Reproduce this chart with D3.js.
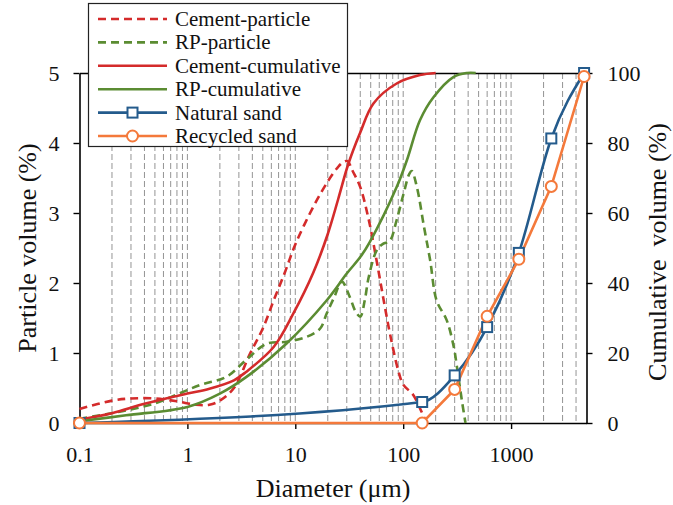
<!DOCTYPE html>
<html>
<head>
<meta charset="utf-8">
<script src="https://cdn.jsdelivr.net/npm/d3@7"></script>
<style>
  html, body { margin: 0; padding: 0; background: #fff; }
  svg { display: block; font-family: "Liberation Serif", "Times New Roman", serif; }
</style>
</head>
<body>
<svg id="chart" width="673" height="505"></svg>
<script>
// Particle size distributions (diameter in µm)
const cementParticleD = [0.1, 0.2, 0.3, 0.5, 0.8, 1.2, 1.6, 2.0, 2.7, 3.8, 5, 6.3, 8, 10, 14.7, 20, 25, 28, 30.5, 34, 40, 48, 57, 66, 76, 90, 100, 124, 148, 165];
const cementParticleV = [0.2, 0.32, 0.35, 0.35, 0.31, 0.26, 0.26, 0.32, 0.5, 0.99, 1.35, 1.75, 2.15, 2.55, 3.09, 3.45, 3.66, 3.73, 3.74, 3.6, 3.37, 2.9, 2.3, 1.75, 1.25, 0.75, 0.55, 0.4, 0.16, 0];

const rpParticleD = [0.1, 0.27, 0.5, 0.7, 1.3, 2.3, 3.5, 5.4, 8.3, 12.7, 17, 19.5, 23, 27, 32, 36, 40, 44, 48, 57, 65, 75, 87, 101, 114, 120, 134, 156, 178, 204, 253, 294, 315, 350, 378];
const rpParticleV = [0.06, 0.18, 0.28, 0.37, 0.54, 0.66, 0.9, 1.13, 1.16, 1.23, 1.35, 1.56, 1.8, 2.02, 1.8, 1.6, 1.52, 1.75, 2.09, 2.47, 2.56, 2.6, 2.9, 3.28, 3.56, 3.6, 3.37, 2.8, 2.32, 1.75, 1.47, 1.09, 0.8, 0.32, 0];

const cementCumD = [0.1, 0.2, 0.4, 1, 1.6, 2.7, 3.5, 6.3, 9.6, 14.7, 20, 25, 31, 40, 53, 87, 143, 200];
const cementCumV = [1, 2.8, 5.5, 8.4, 9.8, 12.2, 14.6, 21.7, 31.3, 43, 54, 64, 74, 83, 91.3, 97, 99.4, 100];

const rpCumD = [0.1, 0.27, 1, 2, 3.5, 8.3, 19.5, 30, 40, 49, 87, 108, 143, 190, 294, 390, 470];
const rpCumV = [0.5, 2.2, 4.6, 8.4, 13.1, 22.7, 35, 42.7, 47.4, 51.7, 67.4, 75, 86.5, 93, 98.9, 100, 100];

// Sieve analysis of the sands (cumulative passing, %)
const sieveD = [0.1, 150, 300, 600, 1180, 2360, 4750];
const naturalSand = [0, 6, 13.6, 27.4, 48.6, 81.3, 100];
const recycledSand = [0, 0, 9.6, 30.5, 46.8, 67.6, 99];

const xTicks = [0.1, 1, 10, 100, 1000];
const leftTicks = [0, 1, 2, 3, 4, 5];
const rightTicks = [0, 20, 40, 60, 80, 100];

const legendItems = [
  { name: "Cement-particle", color: "#d42b2b", dash: "8,5", marker: null },
  { name: "RP-particle", color: "#5b8c32", dash: "8,5", marker: null },
  { name: "Cement-cumulative", color: "#d42b2b", dash: null, marker: null },
  { name: "RP-cumulative", color: "#5b8c32", dash: null, marker: null },
  { name: "Natural sand", color: "#245b8c", dash: null, marker: "square" },
  { name: "Recycled sand", color: "#f4793b", dash: null, marker: "circle" }
];

const svg = d3.select("#chart");
const m = { left: 79.5, right: 586.5, top: 73, bottom: 423 };

const x = d3.scaleLog().domain([0.1, 5000]).range([m.left, m.right]);
const yL = d3.scaleLinear().domain([0, 5]).range([m.bottom, m.top]);
const yR = d3.scaleLinear().domain([0, 100]).range([m.bottom, m.top]);

// Dashed vertical grid at every log subdivision
const gridVals = [];
for (let dec = 0.1; dec < 5000; dec *= 10) {
  for (let k = 1; k <= 9; k++) {
    const v = +(dec * k).toPrecision(3);
    if (v > 0.1 && v < 5000) gridVals.push(v);
  }
}
svg.append("g").selectAll("line").data(gridVals).join("line")
  .attr("x1", d => x(d)).attr("x2", d => x(d))
  .attr("y1", m.top).attr("y2", m.bottom)
  .attr("stroke", "#949494").attr("stroke-width", 1)
  .attr("stroke-dasharray", "6,3");

// Axes
const fontTick = 22;
const axB = svg.append("g").attr("transform", `translate(0,${m.bottom})`)
  .call(d3.axisBottom(x).tickValues(xTicks).tickFormat(d => String(d)).tickSize(6).tickPadding(17).tickSizeOuter(0));
const axL = svg.append("g").attr("transform", `translate(${m.left},0)`)
  .call(d3.axisLeft(yL).tickValues(leftTicks).tickFormat(d3.format("d")).tickSize(6).tickPadding(14).tickSizeOuter(0));
const axR = svg.append("g").attr("transform", `translate(${m.right},0)`)
  .call(d3.axisRight(yR).tickValues(rightTicks).tickFormat(d3.format("d")).tickSize(6).tickPadding(15).tickSizeOuter(0));
const axT = svg.append("g").attr("transform", `translate(0,${m.top})`)
  .call(d3.axisTop(x).tickValues([]).tickSizeOuter(0));

[axB, axL, axR, axT].forEach(g => {
  g.select(".domain").attr("stroke", "#000").attr("stroke-width", 1.6);
  g.selectAll(".tick line").attr("stroke", "#000").attr("stroke-width", 1.4);
  g.selectAll("text").attr("font-family", "Liberation Serif").attr("font-size", fontTick).attr("fill", "#111");
});

// Axis titles
svg.append("text").attr("x", (m.left + m.right) / 2).attr("y", 497)
  .attr("text-anchor", "middle").attr("font-size", 26).attr("fill", "#111").text("Diameter (μm)");
svg.append("text").attr("transform", `translate(36,${(m.top + m.bottom) / 2}) rotate(-90)`)
  .attr("text-anchor", "middle").attr("font-size", 26).attr("fill", "#111").text("Particle volume (%)");
svg.append("text").attr("transform", `translate(666,${(m.top + m.bottom) / 2 + 4}) rotate(-90)`)
  .attr("text-anchor", "middle").attr("font-size", 26).attr("fill", "#111")
  .attr("xml:space", "preserve").style("white-space", "pre").text("Cumulative  volume (%)");

// Curves
const smooth = d3.curveCatmullRom.alpha(0.5);
function drawSeries(ds, vs, yScale, color, dash, curve) {
  const pts = ds.map((d, i) => [d, vs[i]]);
  const line = d3.line().x(p => x(p[0])).y(p => yScale(p[1])).curve(curve);
  svg.append("path").datum(pts).attr("d", line)
    .attr("fill", "none").attr("stroke", color).attr("stroke-width", 2.6)
    .attr("stroke-dasharray", dash || null);
  return pts;
}

drawSeries(cementParticleD, cementParticleV, yL, legendItems[0].color, legendItems[0].dash, smooth);
drawSeries(rpParticleD, rpParticleV, yL, legendItems[1].color, legendItems[1].dash, smooth);
drawSeries(cementCumD, cementCumV, yR, legendItems[2].color, null, smooth);
drawSeries(rpCumD, rpCumV, yR, legendItems[3].color, null, smooth);
const nsPts = drawSeries(sieveD, naturalSand, yR, legendItems[4].color, null, d3.curveMonotoneX);
const rsPts = drawSeries(sieveD, recycledSand, yR, legendItems[5].color, null, d3.curveLinear);

svg.append("g").selectAll("rect").data(nsPts).join("rect")
  .attr("x", p => x(p[0]) - 5).attr("y", p => yR(p[1]) - 5)
  .attr("width", 10).attr("height", 10)
  .attr("fill", "#fff").attr("stroke", legendItems[4].color).attr("stroke-width", 2);
svg.append("g").selectAll("circle").data(rsPts).join("circle")
  .attr("cx", p => x(p[0])).attr("cy", p => yR(p[1])).attr("r", 5.5)
  .attr("fill", "#fff").attr("stroke", legendItems[5].color).attr("stroke-width", 2);

// Legend
const lg = svg.append("g");
lg.append("rect").attr("x", 88.5).attr("y", 3.5).attr("width", 259).attr("height", 143)
  .attr("fill", "#fff").attr("stroke", "#222").attr("stroke-width", 1.2);
legendItems.forEach((it, i) => {
  const cy = 19 + i * 23.4;
  lg.append("line").attr("x1", 98).attr("x2", 167).attr("y1", cy).attr("y2", cy)
    .attr("stroke", it.color).attr("stroke-width", 2.6).attr("stroke-dasharray", it.dash || null);
  if (it.marker === "square") {
    lg.append("rect").attr("x", 132.5 - 5).attr("y", cy - 5).attr("width", 10).attr("height", 10)
      .attr("fill", "#fff").attr("stroke", it.color).attr("stroke-width", 2);
  } else if (it.marker === "circle") {
    lg.append("circle").attr("cx", 132.5).attr("cy", cy).attr("r", 5.5)
      .attr("fill", "#fff").attr("stroke", it.color).attr("stroke-width", 2);
  }
  lg.append("text").attr("x", 175).attr("y", cy).attr("dy", "0.33em")
    .attr("font-size", 21).attr("fill", "#111").text(it.name);
});
</script>
</body>
</html>
